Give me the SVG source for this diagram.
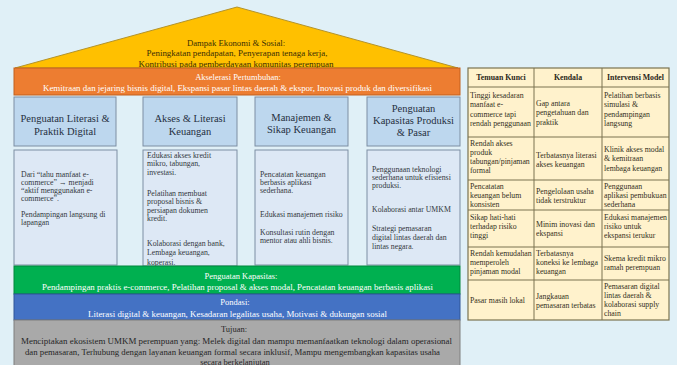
<svg xmlns="http://www.w3.org/2000/svg" width="677" height="365" viewBox="0 0 677 365">
<style>
text { font-family: "Liberation Serif", "Times New Roman", serif; }
.c { text-anchor: middle; }
.roof { font-size: 8.7px; fill: #3a2e05; }
.bar { font-size: 8.5px; fill: #ffffff; }
.dark { font-size: 8.5px; fill: #262626; }
.hdr { font-size: 10.5px; fill: #26303f; text-anchor: middle; }
.body { font-size: 7.8px; fill: #333840; }
.tb { font-size: 7.8px; fill: #333022; }
.th { font-size: 7.8px; font-weight: bold; fill: #2a2618; text-anchor: middle; }
.hbox { fill: #bdd7ee; stroke: #7d8ea3; stroke-width: 1; }
.bbox { fill: #dde8f5; stroke: #7d8ea3; stroke-width: 1; }
.grid { stroke: #7a7350; stroke-width: 1; fill: none; }
</style>
<rect x="0" y="0" width="677" height="365" fill="#e0f0f7"/>

<g id="roof">
  <polygon points="15,68 237,7 458,68" fill="#ffc000" stroke="#b3932a" stroke-width="1"/>
  <text class="roof c" x="236" y="46">Dampak Ekonomi &amp; Sosial:</text>
  <text class="roof c" x="237" y="56" textLength="181" lengthAdjust="spacingAndGlyphs">Peningkatan pendapatan, Penyerapan tenaga kerja,</text>
  <text class="roof c" x="236" y="67" textLength="195" lengthAdjust="spacingAndGlyphs">Kontribusi pada pemberdayaan komunitas perempuan</text>
</g>

<g id="akselerasi">
  <rect x="14" y="68" width="446" height="27" fill="#ed7d31" stroke="#c2601f" stroke-width="1"/>
  <text class="bar c" x="238" y="79.5" fill="#fff4e6">Akselerasi Pertumbuhan:</text>
  <text class="bar c" x="237.5" y="91" textLength="389" lengthAdjust="spacingAndGlyphs">Kemitraan dan jejaring bisnis digital, Ekspansi pasar lintas daerah &amp; ekspor, Inovasi produk dan diversifikasi</text>
</g>

<g id="pilar1">
  <rect class="hbox" x="14" y="97" width="102" height="49"/>
  <text class="hdr" x="65" y="121.5">Penguatan Literasi &amp;</text>
  <text class="hdr" x="65" y="134.5">Praktik Digital</text>
  <rect class="bbox" x="14" y="150" width="103" height="115"/>
  <text class="body" x="21" y="176.5">Dari “tahu manfaat e-</text>
  <text class="body" x="21" y="184.5">commerce” → menjadi</text>
  <text class="body" x="21" y="192.5">“aktif menggunakan e-</text>
  <text class="body" x="21" y="200.5">commerce”.</text>
  <text class="body" x="21" y="217">Pendampingan langsung di</text>
  <text class="body" x="21" y="225">lapangan</text>
</g>

<g id="pilar2">
  <rect class="hbox" x="143" y="97" width="94" height="49"/>
  <text class="hdr" x="190" y="121.5">Akses &amp; Literasi</text>
  <text class="hdr" x="190" y="134.5">Keuangan</text>
  <rect class="bbox" x="143" y="150" width="94" height="116"/>
  <text class="body" x="147" y="157.5">Edukasi akses kredit</text>
  <text class="body" x="147" y="166">mikro, tabungan,</text>
  <text class="body" x="147" y="174.5">investasi.</text>
  <text class="body" x="147" y="195.5">Pelatihan membuat</text>
  <text class="body" x="147" y="204">proposal bisnis &amp;</text>
  <text class="body" x="147" y="212.5">persiapan dokumen</text>
  <text class="body" x="147" y="221">kredit.</text>
  <text class="body" x="147" y="245.5">Kolaborasi dengan bank,</text>
  <text class="body" x="147" y="254.5">Lembaga keuangan,</text>
  <text class="body" x="147" y="264.5">koperasi.</text>
</g>

<g id="pilar3">
  <rect class="hbox" x="255" y="97" width="93" height="49"/>
  <text class="hdr" x="301.5" y="120.5">Manajemen &amp;</text>
  <text class="hdr" x="301.5" y="132.5">Sikap Keuangan</text>
  <rect class="bbox" x="255" y="150" width="93" height="115"/>
  <text class="body" x="260" y="176.5">Pencatatan keuangan</text>
  <text class="body" x="260" y="184.5">berbasis aplikasi</text>
  <text class="body" x="260" y="192.5">sederhana.</text>
  <text class="body" x="260" y="216.5">Edukasi manajemen risiko</text>
  <text class="body" x="260" y="234.5">Konsultasi rutin dengan</text>
  <text class="body" x="260" y="242.5">mentor atau ahli bisnis.</text>
</g>

<g id="pilar4">
  <rect class="hbox" x="367" y="97" width="93" height="49"/>
  <text class="hdr" x="413.5" y="111.5">Penguatan</text>
  <text class="hdr" x="413.5" y="123.5">Kapasitas Produksi</text>
  <text class="hdr" x="413.5" y="135.5">&amp; Pasar</text>
  <rect class="bbox" x="367" y="150" width="93" height="115"/>
  <text class="body" x="372" y="171.5">Penggunaan teknologi</text>
  <text class="body" x="372" y="179.5">sederhana untuk efisiensi</text>
  <text class="body" x="372" y="188">produksi.</text>
  <text class="body" x="372" y="211.5">Kolaborasi antar UMKM</text>
  <text class="body" x="372" y="230.5">Strategi pemasaran</text>
  <text class="body" x="372" y="239.5">digital lintas daerah dan</text>
  <text class="body" x="372" y="248.5">lintas negara.</text>
</g>

<g id="penguatan-kapasitas">
  <rect x="14" y="266" width="446" height="28" fill="#00b050" stroke="#00863c" stroke-width="1"/>
  <text class="bar c" x="241" y="278.5" fill="#effbe9">Penguatan Kapasitas:</text>
  <text class="bar c" x="237.5" y="290" textLength="391" lengthAdjust="spacingAndGlyphs" fill="#effbe9">Pendampingan praktis e-commerce, Pelatihan proposal &amp; akses modal, Pencatatan keuangan berbasis aplikasi</text>
</g>

<g id="pondasi">
  <rect x="14" y="294" width="446" height="26" fill="#4472c4" stroke="#2f5597" stroke-width="1"/>
  <text class="bar c" x="235" y="305">Pondasi:</text>
  <text class="bar c" x="237.5" y="316.5" textLength="299" lengthAdjust="spacingAndGlyphs">Literasi digital &amp; keuangan, Kesadaran legalitas usaha, Motivasi &amp; dukungan sosial</text>
</g>

<g id="tujuan">
  <rect x="14" y="320" width="446" height="46" fill="#a9a9a9" stroke="#7f7f7f" stroke-width="1"/>
  <text class="dark c" x="234" y="331.5">Tujuan:</text>
  <text class="dark c" x="236.5" y="344" textLength="431" lengthAdjust="spacingAndGlyphs">Menciptakan ekosistem UMKM perempuan yang: Melek digital dan mampu memanfaatkan teknologi dalam operasional</text>
  <text class="dark c" x="232.5" y="354.5" textLength="415" lengthAdjust="spacingAndGlyphs">dan pemasaran, Terhubung dengan layanan keuangan formal secara inklusif, Mampu mengembangkan kapasitas usaha</text>
  <text class="dark c" x="235" y="364.5">secara berkelanjutan</text>
</g>

<g id="tabel">
  <rect x="468" y="68" width="201" height="252" fill="#fff2cc" stroke="#7a7350" stroke-width="1.2"/>
  <path class="grid" d="M534,68 V320 M602,68 V320 M468,87 H669 M468,137 H669 M468,180 H669 M468,210 H669 M468,247 H669 M468,280 H669"/>
  <text class="th" x="501" y="80">Temuan Kunci</text>
  <text class="th" x="568" y="80">Kendala</text>
  <text class="th" x="635.5" y="80">Intervensi Model</text>

  <text class="tb" x="470" y="97.5">Tinggi kesadaran</text>
  <text class="tb" x="470" y="107">manfaat e-</text>
  <text class="tb" x="470" y="116.5">commerce tapi</text>
  <text class="tb" x="470" y="126">rendah penggunaan</text>
  <text class="tb" x="536" y="105.5">Gap antara</text>
  <text class="tb" x="536" y="115">pengetahuan dan</text>
  <text class="tb" x="536" y="124.5">praktik</text>
  <text class="tb" x="604" y="97.5">Pelatihan berbasis</text>
  <text class="tb" x="604" y="107">simulasi &amp;</text>
  <text class="tb" x="604" y="116.5">pendampingan</text>
  <text class="tb" x="604" y="126">langsung</text>

  <text class="tb" x="470" y="145.5">Rendah akses</text>
  <text class="tb" x="470" y="154.5">produk</text>
  <text class="tb" x="470" y="163.5">tabungan/pinjaman</text>
  <text class="tb" x="470" y="172.5">formal</text>
  <text class="tb" x="536" y="157.5">Terbatasnya literasi</text>
  <text class="tb" x="536" y="166.5">akses keuangan</text>
  <text class="tb" x="604" y="151.5">Klinik akses modal</text>
  <text class="tb" x="604" y="161">&amp; kemitraan</text>
  <text class="tb" x="604" y="170.5">lembaga keuangan</text>

  <text class="tb" x="470" y="188.5">Pencatatan</text>
  <text class="tb" x="470" y="197.5">keuangan belum</text>
  <text class="tb" x="470" y="206.5">konsisten</text>
  <text class="tb" x="536" y="193.5">Pengelolaan usaha</text>
  <text class="tb" x="536" y="202.5">tidak terstruktur</text>
  <text class="tb" x="604" y="188.5">Penggunaan</text>
  <text class="tb" x="604" y="197.5">aplikasi pembukuan</text>
  <text class="tb" x="604" y="206.5">sederhana</text>

  <text class="tb" x="470" y="219.5">Sikap hati-hati</text>
  <text class="tb" x="470" y="228.5">terhadap risiko</text>
  <text class="tb" x="470" y="237.5">tinggi</text>
  <text class="tb" x="536" y="226.5">Minim inovasi dan</text>
  <text class="tb" x="536" y="235.5">ekspansi</text>
  <text class="tb" x="604" y="219.5">Edukasi manajemen</text>
  <text class="tb" x="604" y="228.5">risiko untuk</text>
  <text class="tb" x="604" y="237.5">ekspansi terukur</text>

  <text class="tb" x="470" y="255.5">Rendah kemudahan</text>
  <text class="tb" x="470" y="264.5">memperoleh</text>
  <text class="tb" x="470" y="273.5">pinjaman modal</text>
  <text class="tb" x="536" y="255.5">Terbatasnya</text>
  <text class="tb" x="536" y="264.5">koneksi ke lembaga</text>
  <text class="tb" x="536" y="273.5">keuangan</text>
  <text class="tb" x="604" y="260.5">Skema kredit mikro</text>
  <text class="tb" x="604" y="269.5">ramah perempuan</text>

  <text class="tb" x="470" y="302.5">Pasar masih lokal</text>
  <text class="tb" x="536" y="298.5">Jangkauan</text>
  <text class="tb" x="536" y="307.5">pemasaran terbatas</text>
  <text class="tb" x="604" y="288.5">Pemasaran digital</text>
  <text class="tb" x="604" y="297.5">lintas daerah &amp;</text>
  <text class="tb" x="604" y="306.5">kolaborasi supply</text>
  <text class="tb" x="604" y="315.5">chain</text>
</g>
</svg>
